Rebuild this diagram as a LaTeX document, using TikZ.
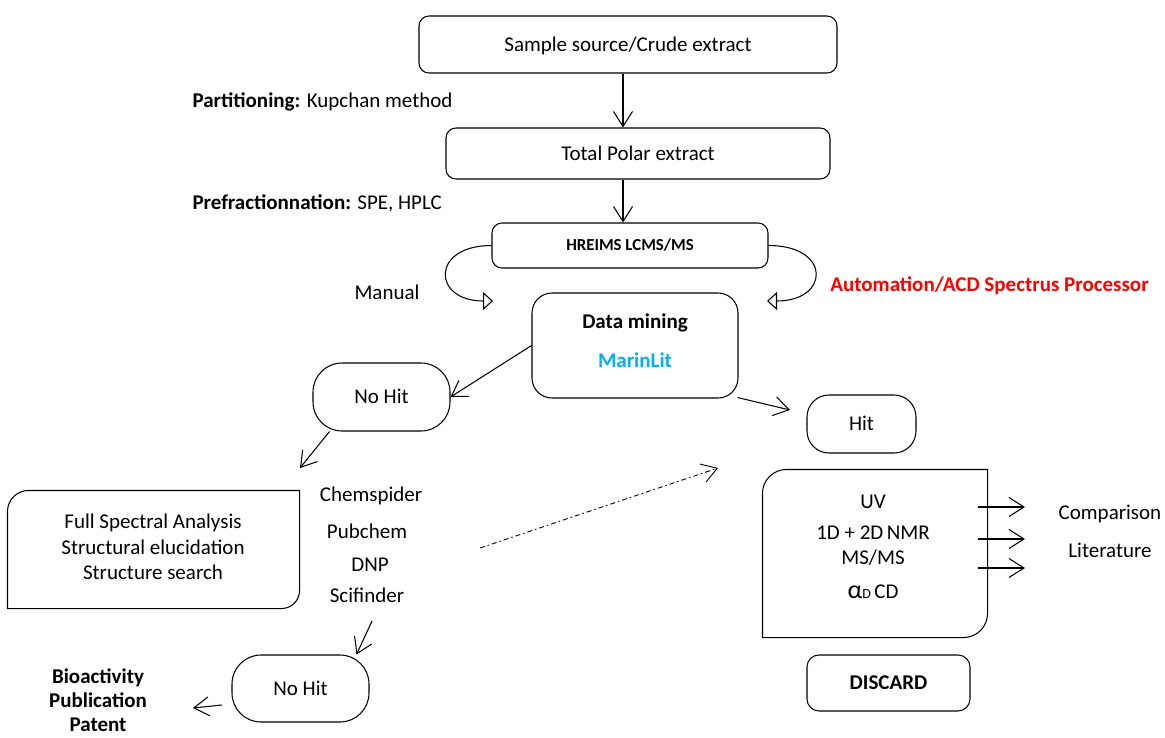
\documentclass[tikz,border=0pt]{standalone}
\usepackage{fontspec}
\setmainfont{Carlito}
\usetikzlibrary{arrows.meta,calc}
\definecolor{mred}{RGB}{255,0,0}
\definecolor{mcyan}{RGB}{0,176,240}
\begin{document}
\begin{tikzpicture}[x=1pt,y=-1pt,line width=1.05pt,
  every node/.style={font=\fontsize{21}{25}\selectfont,inner sep=0pt,text height=13.5pt,text depth=0pt},
  box/.style={draw,rounded corners=10pt},
  pill/.style={draw,rounded corners=29pt},
  arr/.style={-{Straight Barb[length=15pt,width=19pt]}},
  oarr/.style={-{Triangle[open,length=10pt,width=18pt,fill=white]}},
  bf/.style={font=\bfseries\fontsize{21}{25}\selectfont}]
\useasboundingbox (0,0) rectangle (1165,737);

% top chain
\node[box,minimum width=418pt,minimum height=57pt] (src) at (628,44.5) {Sample source/Crude extract};
\node[box,minimum width=384pt,minimum height=51pt] (tpe) at (638,153.5) {Total Polar extract};
\node[box,minimum width=276pt,minimum height=45pt,font=\bfseries\fontsize{16.8}{19}\selectfont,text height=10.8pt] (hre) at (630,245.5) {HREIMS LCMS/MS};

\node[anchor=west] (part) at (192,101) {\textbf{Partitioning:} Kupchan method};
\node[anchor=west] (pref) at (192,203) {\textbf{Prefractionnation:} SPE, HPLC};

\draw[arr] ([xshift=-5pt]src.south) -- ([xshift=-5pt]src.south |- tpe.north);
\draw[arr] ([xshift=-15pt]tpe.south) -- ([xshift=-15pt]tpe.south |- hre.north);

% data mining
\node[draw,rounded corners=20pt,minimum width=206pt,minimum height=105pt] (dm) at (635,345.5) {};
\node[bf] (dmt) at (635,322) {Data mining};
\node[bf,text=mcyan] (ml) at (635,361) {MarinLit};

% curved arrows
\coordinate (mend) at (493,301);
\coordinate (aend) at (767,301);
\draw[oarr] (hre.west) .. controls +(-61,0) and +(-61,0) .. (mend);
\draw[oarr] (hre.east) .. controls +(63,0) and +(63,0) .. (aend);
\node (man) at (387,293) {Manual};
\node[bf,text=mred] (auto) at (989.5,285) {Automation/ACD Spectrus Processor};

% No hit 1
\node[pill,minimum width=137pt,minimum height=68pt] (nh1) at (381.5,397) {No Hit};
\draw[arr] (dm.west) -- (nh1.east);
\coordinate (nh1end) at (300,468);
\draw[arr] ([xshift=-52pt]nh1.south) -- (nh1end);

% Hit
\node[draw,rounded corners=22pt,minimum width=109pt,minimum height=58pt] (hit) at (861.5,424) {Hit};
\coordinate (dmhit) at (790,410);
\draw[arr] ([xshift=-1pt,yshift=1pt]dm.south east) -- (dmhit);

% left box
\node[minimum width=291pt,minimum height=117pt] (lb) at (153.5,549.5) {};
\draw (lb.south west) -- ($(lb.north west)+(0,21)$) .. controls ($(lb.north west)+(0,9.4)$) and ($(lb.north west)+(9.4,0)$) .. ($(lb.north west)+(21,0)$)
  -- (lb.north east) -- ($(lb.south east)+(0,-18)$) .. controls ($(lb.south east)+(0,-8)$) and ($(lb.south east)+(-8,0)$) .. ($(lb.south east)+(-18,0)$) -- cycle;
\node (lb1) at (153,522) {Full Spectral Analysis};
\node (lb2) at (153,548) {Structural elucidation};
\node (lb3) at (153,573) {Structure search};

% database list
\node (chem) at (371,495) {Chemspider};
\node (pub) at (367,532) {Pubchem};
\node (dnp) at (370,565) {DNP};
\node (sci) at (367,596) {Scifinder};

% dash-dot arrow
\coordinate (dd1) at (480,548);
\coordinate (dd2) at (718,468);
\draw[arr,line width=0.9pt,dash pattern=on 5pt off 3pt on 1.5pt off 3pt] (dd1) -- (dd2);

% No hit 2
\node[pill,minimum width=137pt,minimum height=67pt] (nh2) at (300.5,688.5) {No Hit};
\coordinate (scis) at (372,621);
\draw[arr] (scis) -- ([xshift=56pt]nh2.north);
\coordinate (nh2s) at (222,705);
\coordinate (bioe) at (193,708);
\draw[arr] (nh2s) -- (bioe);
\node[bf] (bio1) at (98,677) {Bioactivity};
\node[bf] (bio2) at (98,701) {Publication};
\node[bf] (bio3) at (98,724.5) {Patent};

% right box
\node[minimum width=224pt,minimum height=167pt] (rb) at (875,553.5) {};
\draw (rb.south west) -- ($(rb.north west)+(0,24)$) .. controls ($(rb.north west)+(0,10.7)$) and ($(rb.north west)+(10.7,0)$) .. ($(rb.north west)+(24,0)$)
  -- (rb.north east) -- ($(rb.south east)+(0,-24)$) .. controls ($(rb.south east)+(0,-10.7)$) and ($(rb.south east)+(-10.7,0)$) .. ($(rb.south east)+(-24,0)$) -- cycle;
\node (uv) at (873,502) {UV};
\node (nmr) at (873,533) {1D + 2D\,NMR};
\node (msms) at (873,558) {MS/MS};
\node (ad) at (873,592) {{\fontsize{26}{26}\selectfont α}{\fontsize{14}{14}\selectfont D}\,CD};

\coordinate (a1s) at (978,507); \coordinate (a1e) at (1025,507);
\coordinate (a2s) at (978,539); \coordinate (a2e) at (1025,539);
\coordinate (a3s) at (978,568); \coordinate (a3e) at (1025,568);
\draw[arr] (a1s) -- (a1e);
\draw[arr] (a2s) -- (a2e);
\draw[arr] (a3s) -- (a3e);
\node (cmp) at (1110,513) {Comparison};
\node (lit) at (1110,551) {Literature};

% discard
\node[box,bf,rounded corners=12pt,minimum width=163pt,minimum height=56pt] (disc) at (888.5,683) {DISCARD};
\end{tikzpicture}
\end{document}
